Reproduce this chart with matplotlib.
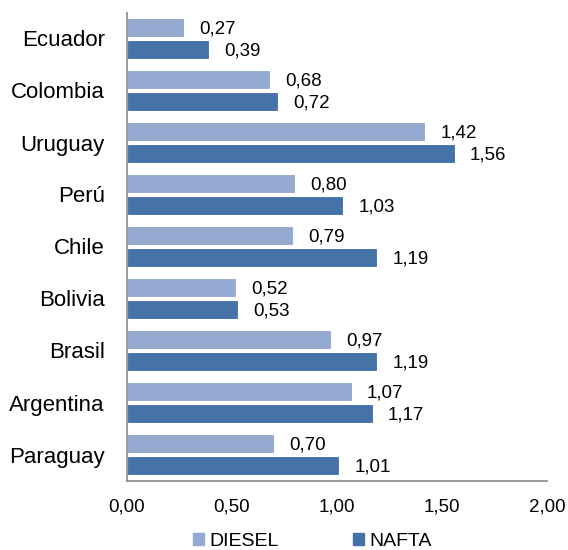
import matplotlib
matplotlib.use("Agg")
import matplotlib.pyplot as plt
from matplotlib.patches import Patch
import numpy as np

plt.rcParams['font.family'] = ['Liberation Sans', 'DejaVu Sans']

countries = ["Ecuador", "Colombia", "Uruguay", "Perú", "Chile", "Bolivia",
             "Brasil", "Argentina", "Paraguay"]
diesel = [0.27, 0.68, 1.42, 0.80, 0.79, 0.52, 0.97, 1.07, 0.70]
nafta = [0.39, 0.72, 1.56, 1.03, 1.19, 0.53, 1.19, 1.17, 1.01]
xticks = [0.0, 0.5, 1.0, 1.5, 2.0]
series_names = ["DIESEL", "NAFTA"]
title = "(en dólares por litro)"

c_diesel = "#95AAD0"
c_nafta = "#4573A8"

fig = plt.figure(figsize=(5.68, 5.5), dpi=100)
ax = fig.add_axes([127/568, 1-480.5/550, (547-127)/568, (480.5-12.5)/550])

y = np.arange(len(countries))
off = 0.21
h = 0.36
ax.barh(y - off, diesel, height=h, color=c_diesel, edgecolor="white", linewidth=0.8)
ax.barh(y + off, nafta, height=h, color=c_nafta, edgecolor="white", linewidth=0.8)

for yi, d, n in zip(y, diesel, nafta):
    ax.annotate(f"{d:.2f}".replace(".", ","), (d, yi - off), xytext=(11, -1),
                textcoords="offset points", va="center", ha="left", fontsize=13.5)
    ax.annotate(f"{n:.2f}".replace(".", ","), (n, yi + off), xytext=(11, -1),
                textcoords="offset points", va="center", ha="left", fontsize=13.5)

ax.set_ylim(len(countries) - 0.5, -0.5)
ax.set_xlim(0, 2.0)
ax.set_yticks(y)
ax.set_yticklabels(countries, fontsize=16)
ax.set_xticks(xticks)
ax.set_xticklabels([f"{v:.2f}".replace(".", ",") for v in xticks], fontsize=13.5)
ax.tick_params(axis="y", length=0, pad=16)
ax.tick_params(axis="x", length=0, pad=13)
for s in ["top", "right"]:
    ax.spines[s].set_visible(False)
for s in ["left", "bottom"]:
    ax.spines[s].set_color("#888888")
    ax.spines[s].set_linewidth(1.2)

handles = [Patch(color=c_diesel), Patch(color=c_nafta)]
fig.legend(handles, series_names, loc="center", bbox_to_anchor=(0.55, 1-541/550),
           ncol=2, frameon=False, handlelength=0.57, handleheight=0.57,
           handletextpad=0.3, columnspacing=3.8, borderpad=0, borderaxespad=0,
           prop={"family": ["Liberation Sans Narrow", "Liberation Sans"], "size": 14})

fig.text(293/568, 1 + 7/550, title, ha="center", va="baseline", fontsize=15,
         fontweight="bold")

fig.savefig("out.png", dpi=100)
